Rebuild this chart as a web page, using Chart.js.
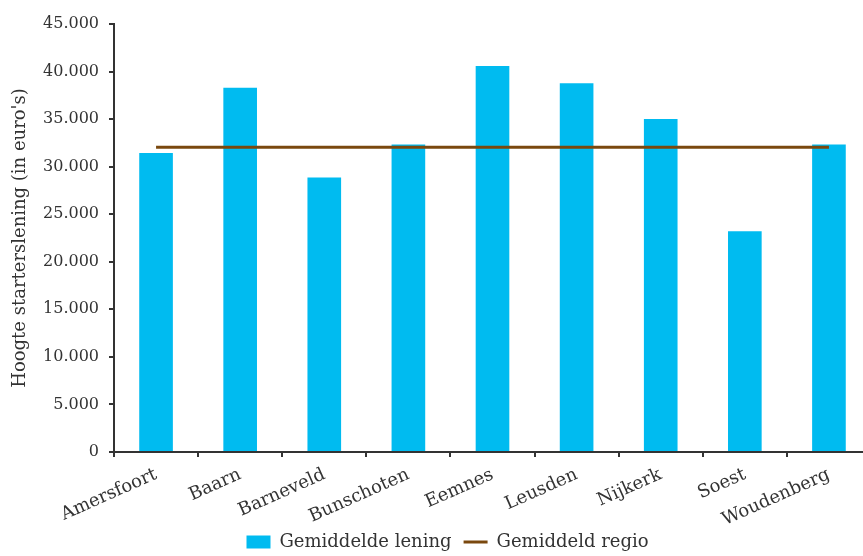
<!DOCTYPE html>
<html>
<head>
<meta charset="utf-8">
<script src="https://cdn.jsdelivr.net/npm/chart.js@4/dist/chart.umd.min.js"></script>
<style>
html,body{margin:0;padding:0;overflow:hidden;background:#fff;width:863px;height:556px;}
#wrap{position:absolute;left:0;top:0;width:880px;height:556px;}
</style>
</head>
<body>
<div id="wrap"><canvas id="c"></canvas></div>
<script>
const categories = ['Amersfoort','Baarn','Barneveld','Bunschoten','Eemnes','Leusden','Nijkerk','Soest','Woudenberg'];
const gemiddeldeLening = [31450, 38300, 28870, 32340, 40580, 38760, 35000, 23220, 32340];
const gemiddeldRegio = [32030, 32030, 32030, 32030, 32030, 32030, 32030, 32030, 32030];
const seriesNames = ['Gemiddelde lening', 'Gemiddeld regio'];
const yTitle = "Hoogte starterslening (in euro's)";
const yMin = 0, yMax = 45000, yStep = 5000;

const FONT = '"DejaVu Serif", serif';
const TEXT = '#333333';
const AXIS = '#333333';
const BAR = '#00BBF0';
const LINE = '#7A480E';

function fmt(v){ return v === 0 ? '0' : String(v).replace(/\B(?=(\d{3})+(?!\d))/g, '.'); }

const yTitlePlugin = {
  id: 'yTitlePlugin',
  afterDraw(chart){
    const ctx = chart.ctx;
    const a = chart.chartArea;
    ctx.save();
    ctx.translate(20, (a.top + a.bottom) / 2);
    ctx.rotate(-Math.PI/2);
    ctx.font = '18px ' + FONT;
    ctx.fillStyle = TEXT;
    ctx.textAlign = 'center';
    ctx.textBaseline = 'middle';
    ctx.fillText(yTitle, 0, 0);
    ctx.restore();
  }
};
const layoutTweak = {
  id: 'layoutTweak',
  afterLayout(chart){
    const l = chart.legend;
    if (l) { l.left += 12; l.right += 12; l.top += 5; l.bottom += 5; }
    const x = chart.scales.x;
    if (x) { x.bottom += 30; }
  }
};

new Chart(document.getElementById('c'), {
  data: {
    labels: categories,
    datasets: [
      {
        type: 'line',
        label: seriesNames[1],
        data: gemiddeldRegio,
        borderColor: LINE,
        backgroundColor: LINE,
        borderWidth: 3,
        pointRadius: 0,
        tension: 0,
        order: 0
      },
      {
        type: 'bar',
        label: seriesNames[0],
        data: gemiddeldeLening,
        backgroundColor: BAR,
        borderWidth: 0,
        barPercentage: 0.40,
        categoryPercentage: 1.0,
        order: 1
      }
    ]
  },
  options: {
    responsive: true,
    maintainAspectRatio: false,
    animation: false,
    devicePixelRatio: 1,
    layout: { padding: { top: 24, right: 9, left: 0, bottom: 0 } },
    plugins: {
      tooltip: { enabled: false },
      legend: {
        position: 'bottom',
        labels: {
          color: TEXT,
          font: { family: FONT, size: 18 },
          usePointStyle: true,
          pointStyleWidth: 24,
          boxHeight: 13,
          padding: 12,
          sort: (a, b) => a.datasetIndex === 1 ? -1 : 1,
          generateLabels(chart){
            const items = Chart.defaults.plugins.legend.labels.generateLabels(chart);
            items.forEach(it => {
              if (it.datasetIndex === 1) { it.pointStyle = 'rect'; it.fillStyle = BAR; it.strokeStyle = BAR; it.lineWidth = 0; }
              else { it.pointStyle = 'line'; it.strokeStyle = LINE; it.lineWidth = 3; }
            });
            return items;
          }
        }
      }
    },
    scales: {
      x: {
        type: 'category',
        offset: true,
        grid: { display: true, drawOnChartArea: false, drawTicks: true, tickLength: 5, color: AXIS, lineWidth: 2, offset: true },
        border: { display: true, color: AXIS, width: 2 },
        ticks: { color: TEXT, font: { family: FONT, size: 18 }, minRotation: 24, maxRotation: 24, padding: 7, autoSkip: false },
        afterFit(scale){ scale.height = 64; }
      },
      y: {
        min: yMin, max: yMax,
        grid: { display: true, drawOnChartArea: false, drawTicks: true, tickLength: 5, color: AXIS, lineWidth: 2 },
        border: { display: true, color: AXIS, width: 2 },
        ticks: { stepSize: yStep, color: TEXT, font: { family: FONT, size: 16 }, padding: 10, callback: v => fmt(v) },
        afterFit(scale){ scale.width = 114; }
      }
    }
  },
  plugins: [yTitlePlugin, layoutTweak]
});
</script>
</body>
</html>
